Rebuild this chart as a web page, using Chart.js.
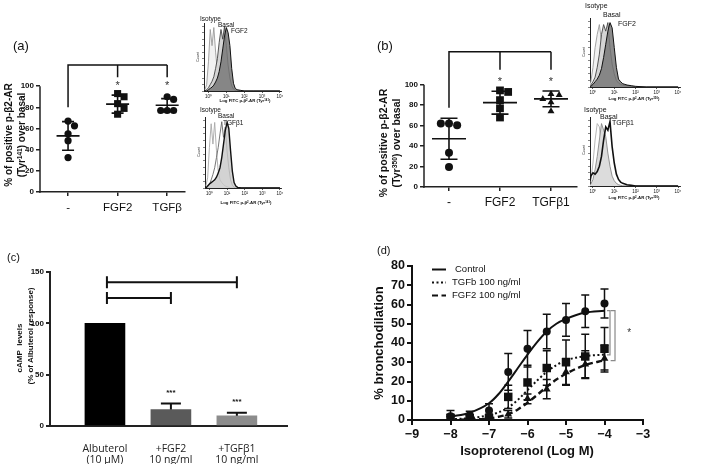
<!DOCTYPE html>
<html>
<head>
<meta charset="utf-8">
<script src="https://cdn.jsdelivr.net/npm/chart.js@4.4.0/dist/chart.umd.min.js"></script>
<style>
  body { margin: 0; width: 709px; height: 464px; position: relative; overflow: hidden; background: #fff;
         font-family: 'Liberation Sans', Arial, sans-serif; color: #111; }
  canvas { position: absolute; }
  .t { position: absolute; white-space: nowrap; line-height: 1; }
  .c { transform: translate(-50%, -50%); }
  .l { transform: translate(0, -50%); }
  .rot { transform: translate(-50%, -50%) rotate(-90deg); }
  .b { font-weight: bold; }
  .sup { font-size: 0.65em; vertical-align: 0.45em; line-height: 0; }
</style>
</head>
<body>

<canvas id="chartA" width="200" height="220" style="left:0;top:0"></canvas>
<canvas id="histA1" width="90" height="90" style="left:196px;top:15px"></canvas>
<canvas id="histA2" width="90" height="93" style="left:197px;top:109px"></canvas>
<canvas id="chartB" width="220" height="215" style="left:370px;top:0"></canvas>
<canvas id="histB1" width="104" height="91" style="left:582px;top:10px"></canvas>
<canvas id="histB2" width="104" height="91" style="left:582px;top:109px"></canvas>
<canvas id="chartC" width="300" height="224" style="left:0;top:240px"></canvas>
<canvas id="chartD" width="349" height="224" style="left:360px;top:240px"></canvas>

<!-- panel letters -->
<div class="t l" style="left:13px;top:45px;font-size:13px">(a)</div>
<div class="t l" style="left:377px;top:45px;font-size:13px">(b)</div>
<div class="t l" style="left:7px;top:257px;font-size:11px">(c)</div>
<div class="t l" style="left:377px;top:250px;font-size:11px">(d)</div>

<!-- axis titles -->
<div class="t rot b" style="left:9px;top:135px;font-size:10px">% of positive p-β2-AR</div>
<div class="t rot b" style="left:22px;top:135px;font-size:10px">(Tyr<span class="sup">141</span>) over basal</div>
<div class="t rot b" style="left:383px;top:143px;font-size:10.5px">% of positive p-β2-AR</div>
<div class="t rot b" style="left:396px;top:143px;font-size:10.5px">(Tyr<span class="sup">350</span>) over basal</div>
<div class="t rot b" style="left:20px;top:348px;font-size:8px">cAMP&nbsp; levels</div>
<div class="t rot b" style="left:31px;top:336px;font-size:8px">(% of Albuterol response)</div>
<div class="t rot b" style="left:378px;top:343px;font-size:13px">% bronchodilation</div>
<div class="t c b" style="left:527px;top:450px;font-size:13px">Isoproterenol (Log M)</div>

<!-- flow cytometry inset labels -->
<div class="t l" style="left:200px;top:19px;font-size:6.5px">Isotype</div>
<div class="t l" style="left:218px;top:25px;font-size:6.5px">Basal</div>
<div class="t l" style="left:231px;top:31px;font-size:6.5px">FGF2</div>
<div class="t rot" style="left:199px;top:57px;font-size:3.5px">Count</div>
<div class="t c b" style="left:245px;top:101px;font-size:4.3px">Log FITC p-β<span class="sup">2</span>-AR (Tyr<span class="sup">141</span>)</div>

<div class="t l" style="left:200px;top:110px;font-size:6.5px">Isotype</div>
<div class="t l" style="left:218px;top:116px;font-size:6.5px">Basal</div>
<div class="t l" style="left:223px;top:123px;font-size:6.5px">TGFβ1</div>
<div class="t rot" style="left:200px;top:152px;font-size:3.5px">Count</div>
<div class="t c b" style="left:246px;top:203px;font-size:4.3px">Log FITC p-β<span class="sup">2</span>-AR (Tyr<span class="sup">141</span>)</div>

<div class="t l" style="left:585px;top:5px;font-size:7px">Isotype</div>
<div class="t l" style="left:603px;top:14px;font-size:7px">Basal</div>
<div class="t l" style="left:618px;top:23px;font-size:7px">FGF2</div>
<div class="t rot" style="left:585px;top:52px;font-size:3.5px">Count</div>
<div class="t c b" style="left:634px;top:99px;font-size:4.3px">Log FITC p-β<span class="sup">2</span>-AR (Tyr<span class="sup">350</span>)</div>

<div class="t l" style="left:584px;top:109px;font-size:7px">Isotype</div>
<div class="t l" style="left:600px;top:116px;font-size:7px">Basal</div>
<div class="t l" style="left:612px;top:122px;font-size:7px">TGFβ1</div>
<div class="t rot" style="left:585px;top:150px;font-size:3.5px">Count</div>
<div class="t c b" style="left:634px;top:198px;font-size:4.3px">Log FITC p-β<span class="sup">2</span>-AR (Tyr<span class="sup">350</span>)</div>

<script>
/* ── data: panel (a) ── */
const catsA = ['-', 'FGF2', 'TGFβ'];
const pointsA = [
    [67, 62.5, 55, 48.5, 32.5],
    [93, 90, 83.5, 79, 73.5],
    [90, 87.5, 77, 77, 77]
];
const meanA = [53, 83, 82];
const sdA = [13.5, 8.5, 6.2];
const shapesA = ['circle', 'rect', 'circle'];
const yTicksA = [0, 20, 40, 60, 80, 100];

/* ── data: panel (b) ── */
const catsB = ['-', 'FGF2', 'TGFβ1'];
const pointsB = [
    [62, 60.5, 62, 33.5, 19.5],
    [94.5, 93, 85, 77, 68],
    [91, 90, 86, 83, 74]
];
const meanB = [47.2, 82.5, 86.2];
const sdB = [20, 11.2, 7.7];
const shapesB = ['circle', 'rect', 'triangle'];
const yTicksB = [0, 20, 40, 60, 80, 100];

/* ── data: flow cytometry insets (log10 fluorescence vs % of max count) ── */
const histLog = [-0.2, -0.1, 0, 0.1, 0.2, 0.3, 0.4, 0.5, 0.6, 0.7, 0.8, 0.9, 1.0, 1.1, 1.2, 1.3, 1.4, 1.5, 1.6, 1.8, 2.0, 2.5, 3.0, 4.0];
const decadeLabels = ['10⁰', '10¹', '10²', '10³', '10⁴'];
const isoA1   = [2, 10, 45, 95, 70, 98, 60, 30, 18, 12, 8, 5, 3, 2, 1, 1, 0, 0, 0, 0, 0, 0, 0, 0];
const basalA1 = [0, 2, 5, 10, 15, 22, 35, 50, 75, 95, 80, 100, 70, 40, 20, 8, 3, 1, 0, 0, 0, 0, 0, 0];
const fgfA1   = [0, 0, 2, 4, 6, 9, 14, 20, 30, 45, 65, 85, 98, 90, 70, 35, 12, 4, 2, 1, 0, 0, 0, 0];
const isoA2   = [3, 15, 60, 95, 65, 97, 55, 25, 12, 8, 5, 3, 2, 1, 0, 0, 0, 0, 0, 0, 0, 0, 0, 0];
const basalA2 = [0, 2, 5, 12, 20, 30, 45, 60, 80, 98, 75, 90, 55, 30, 12, 4, 1, 0, 0, 0, 0, 0, 0, 0];
const tgfA2   = [0, 3, 6, 8, 10, 12, 16, 22, 30, 45, 65, 85, 97, 88, 55, 25, 8, 3, 1, 0, 0, 0, 0, 0];
const isoB1   = [2, 8, 30, 60, 80, 95, 70, 50, 30, 18, 12, 8, 6, 4, 3, 2, 1, 1, 0, 0, 0, 0, 0, 0];
const basalB1 = [0, 3, 8, 15, 30, 50, 80, 95, 85, 98, 60, 35, 20, 10, 6, 4, 3, 2, 2, 1, 0, 0, 0, 0];
const fgfB1   = [0, 1, 4, 8, 12, 18, 28, 45, 65, 85, 98, 90, 60, 30, 12, 8, 5, 4, 3, 2, 1, 0, 0, 0];
const isoB2   = [2, 8, 35, 70, 95, 90, 60, 35, 20, 12, 8, 5, 3, 2, 1, 0, 0, 0, 0, 0, 0, 0, 0, 0];
const basalB2 = [0, 3, 10, 25, 45, 70, 95, 85, 75, 50, 30, 15, 8, 4, 2, 1, 0, 0, 0, 0, 0, 0, 0, 0];
const tgfB2   = [0, 15, 20, 18, 22, 30, 45, 70, 90, 85, 98, 60, 35, 18, 10, 6, 4, 3, 2, 1, 0, 0, 0, 0];
const countTicks = [0, 10, 20, 30, 40, 50, 60, 70, 80, 90, 100];

/* ── data: panel (c) ── */
const catsC = [['Albuterol', '(10 µM)'], ['+FGF2', '10 ng/ml'], ['+TGFβ1', '10 ng/ml']];
const cAMP = [100, 16, 10];
const cAMPerr = [0, 6, 3];
const yTicksC = [0, 50, 100, 150];

/* ── data: panel (d) ── */
const logDose = [-8, -7.5, -7, -6.5, -6, -5.5, -5, -4.5, -4];
const ctrlMean = [2, 2.5, 5, 25, 37, 46, 52, 56.5, 60.5];
const ctrlErr  = [3, 2, 3.5, 9.5, 9.5, 9, 8.5, 8.5, 7.5];
const tgfMean  = [1, 1, 1, 12, 19.5, 27, 30, 33, 37];
const tgfErr   = [2, 1.5, 2, 6, 9, 9, 11.5, 11.5, 11];
const fgfMean  = [0.5, 0.5, 0, 3, 11, 16, 25, 29, 32];
const fgfErr   = [1.5, 1, 1.5, 2, 2.5, 5, 7, 7, 7];
// fitted curves
const fitDose = [-8, -7.5, -7, -6.75, -6.5, -6.25, -6, -5.75, -5.5, -5.25, -5, -4.5, -4];
const ctrlFit = [1.7, 3.8, 8.7, 13.5, 20, 27, 34, 40.5, 46, 50, 52.5, 55.8, 56.8];
const tgfFit  = [0.4, 1, 2.5, 4, 6.5, 10.5, 15.5, 20.5, 25, 28.5, 31, 33.2, 34];
const fgfFit  = [0.1, 0.3, 0.8, 1.7, 3, 5.5, 9, 13, 17.3, 21, 24, 28.6, 31];
const legendD = ['Control', 'TGFb 100 ng/ml', 'FGF2 100 ng/ml'];

/* ── shared setup ── */
Chart.defaults.font.family = "'Liberation Sans', Arial, sans-serif";
Chart.defaults.color = '#111';
Chart.defaults.animation = false;
Chart.defaults.responsive = false;
Chart.defaults.plugins.legend.display = false;
Chart.defaults.plugins.tooltip.enabled = false;

function fixWidth(w) { return scale => { scale.width = w; }; }
function fixHeight(h) { return scale => { scale.height = h; }; }
function ticksAt(values) { return scale => { scale.ticks = values.map(v => ({ value: v })); }; }

// spread overlapping dots sideways, like a column scatter plot
function swarm(values, step, gap) {
    const placed = [];
    const slots = [0, 1, -1, 2, -2, 3, -3];
    return values.map(v => {
        for (const s of slots) {
            const off = s * step;
            const hit = placed.some(p => Math.abs(p.off - off) < step * 0.9 && Math.abs(p.v - v) < gap);
            if (!hit) { placed.push({ v, off }); return off; }
        }
        return 0;
    });
}

/* ── dot plots (a) and (b) ── */
function dotPlotMarks(means, sds, opt) {
    return {
        id: 'dotPlotMarks',
        afterDatasetsDraw(chart) {
            const { ctx, scales: { x, y } } = chart;
            ctx.save();
            ctx.strokeStyle = '#111';
            ctx.lineWidth = 1.6;
            means.forEach((m, i) => {
                const cx = x.getPixelForValue(i);
                const ym = y.getPixelForValue(m);
                const yHi = y.getPixelForValue(m + sds[i]);
                const yLo = y.getPixelForValue(m - sds[i]);
                ctx.beginPath();
                ctx.moveTo(cx - opt.meanHalf, ym); ctx.lineTo(cx + opt.meanHalf, ym);
                ctx.moveTo(cx, yHi); ctx.lineTo(cx, yLo);
                ctx.moveTo(cx - opt.capHalf, yHi); ctx.lineTo(cx + opt.capHalf, yHi);
                ctx.moveTo(cx - opt.capHalf, yLo); ctx.lineTo(cx + opt.capHalf, yLo);
                ctx.stroke();
            });
            // y axis line only up to the last tick
            const ax = chart.chartArea.left;
            ctx.strokeStyle = '#222';
            ctx.lineWidth = 1.5;
            ctx.beginPath();
            ctx.moveTo(ax, y.getPixelForValue(0) + 0.75);
            ctx.lineTo(ax, y.getPixelForValue(opt.yTicks[opt.yTicks.length - 1]));
            ctx.stroke();
            // significance bracket
            const br = opt.bracket;
            const top = y.getPixelForValue(br.top);
            const x0 = x.getPixelForValue(0);
            const xn = x.getPixelForValue(means.length - 1);
            ctx.strokeStyle = '#111';
            ctx.beginPath();
            ctx.moveTo(x0, y.getPixelForValue(br.leftFoot));
            ctx.lineTo(x0, top);
            ctx.lineTo(xn, top);
            for (let i = 1; i < means.length; i++) {
                const xi = x.getPixelForValue(i);
                ctx.moveTo(xi, top);
                ctx.lineTo(xi, y.getPixelForValue(br.foot));
            }
            ctx.stroke();
            ctx.fillStyle = '#333';
            ctx.font = "11px 'Liberation Sans', Arial, sans-serif";
            ctx.textAlign = 'center';
            ctx.textBaseline = 'middle';
            for (let i = 1; i < means.length; i++) {
                ctx.fillText('*', x.getPixelForValue(i), y.getPixelForValue(br.star));
            }
            ctx.restore();
        }
    };
}

function makeDotPlot(id, cats, points, means, sds, shapes, opt) {
    const datasets = points.map((vals, i) => {
        const offs = swarm(vals, opt.step, opt.gap);
        return {
            data: vals.map((v, k) => ({ x: i + offs[k], y: v })),
            pointStyle: shapes[i],
            pointRadius: shapes[i] === 'rect' ? opt.rectR : opt.r,
            backgroundColor: '#111',
            borderColor: '#111',
            borderWidth: 0
        };
    });
    new Chart(document.getElementById(id), {
        type: 'scatter',
        data: { datasets },
        options: {
            layout: { padding: opt.padding },
            scales: {
                x: {
                    min: opt.xMin, max: opt.xMax,
                    afterBuildTicks: ticksAt(cats.map((c, i) => i)),
                    afterFit: fixHeight(opt.xH),
                    ticks: { callback: v => cats[v], font: { size: opt.catFont }, padding: opt.catPad, maxRotation: 0, autoSkip: false },
                    grid: { drawOnChartArea: false, tickLength: 4, color: '#222', lineWidth: 1.5 },
                    border: { color: '#222', width: 1.5 }
                },
                y: {
                    min: 0, max: opt.yMax,
                    afterBuildTicks: ticksAt(opt.yTicks),
                    afterFit: fixWidth(opt.yW),
                    ticks: { font: { size: 8, weight: 'bold' }, padding: 2 },
                    grid: { drawOnChartArea: false, tickLength: 4, color: '#222', lineWidth: 1.5 },
                    border: { display: false }
                }
            }
        },
        plugins: [dotPlotMarks(means, sds, opt)]
    });
}

makeDotPlot('chartA', catsA, pointsA, meanA, sdA, shapesA, {
    padding: { top: 65, right: 15, left: 0, bottom: 0 }, xH: 28, yW: 40,
    xMin: -0.566, xMax: 2.36, yMax: 120, yTicks: yTicksA,
    catFont: 11.5, catPad: 5, r: 3.6, rectR: 5, step: 0.13, gap: 6.5,
    meanHalf: 11.5, capHalf: 6,
    bracket: { top: 120, leftFoot: 80, foot: 108.5, star: 100 }
});

makeDotPlot('chartB', catsB, pointsB, meanB, sdB, shapesB, {
    padding: { top: 49, right: 13, left: 0, bottom: 0 }, xH: 28, yW: 54,
    xMin: -0.49, xMax: 2.51, yMax: 135, yTicks: yTicksB,
    catFont: 12, catPad: 4, r: 4, rectR: 5.5, step: 0.16, gap: 7,
    meanHalf: 17, capHalf: 8.5,
    bracket: { top: 132.4, leftFoot: 77.5, foot: 114.7, star: 103 }
});

/* ── flow cytometry histograms ── */
function makeHist(id, series, looks, xMin, xMax, padRight) {
    new Chart(document.getElementById(id), {
        type: 'scatter',
        data: {
            datasets: series.map((s, i) => ({
                data: histLog.map((x, k) => ({ x, y: s[k] })),
                showLine: true,
                pointRadius: 0,
                tension: 0,
                borderColor: looks[i].line,
                borderWidth: looks[i].width,
                backgroundColor: looks[i].fill || 'transparent',
                fill: looks[i].fill ? 'origin' : false,
                order: series.length - i
            }))
        },
        options: {
            layout: { padding: { top: 8, right: padRight, left: 0, bottom: 0 } },
            scales: {
                x: {
                    min: xMin, max: xMax,
                    afterBuildTicks: ticksAt([0, 1, 2, 3, 4]),
                    afterFit: fixHeight(14),
                    ticks: { callback: v => decadeLabels[v], font: { size: 4.5 }, padding: 1, maxRotation: 0, autoSkip: false },
                    grid: { drawOnChartArea: false, tickLength: 2, color: '#333', lineWidth: 0.8 },
                    border: { color: '#222', width: 1 }
                },
                y: {
                    min: 0, max: 105,
                    afterBuildTicks: ticksAt(countTicks),
                    afterFit: fixWidth(8),
                    ticks: { display: false },
                    grid: { drawOnChartArea: false, tickLength: 2, color: '#333', lineWidth: 0.6 },
                    border: { color: '#222', width: 1 }
                }
            }
        }
    });
}

const lookTop = [
    { line: '#9a9a9a', fill: '#f1f1f1', width: 0.9 },
    { line: '#444', fill: '#d4d4d4', width: 0.9 },
    { line: '#111', fill: 'rgba(120,120,120,0.85)', width: 1 }
];
const lookBottomA = [
    { line: '#a8a8a8', width: 0.9 },
    { line: '#666', width: 0.9 },
    { line: '#111', fill: 'rgba(200,200,200,0.8)', width: 1.4 }
];
const lookBottomB = [
    { line: '#b0b0b0', width: 0.9 },
    { line: '#888', fill: '#dcdcdc', width: 0.9 },
    { line: '#111', width: 1.6 }
];

makeHist('histA1', [isoA1, basalA1, fgfA1], lookTop, -0.25, 4.06, 5);
makeHist('histA2', [isoA2, basalA2, tgfA2], lookBottomA, -0.25, 4.06, 6);
makeHist('histB1', [isoB1, basalB1, fgfB1], lookTop, -0.14, 4.09, 6);
makeHist('histB2', [isoB2, basalB2, tgfB2], lookBottomB, -0.14, 4.09, 6);

/* ── (c) cAMP bar chart ── */
const cMarks = {
    id: 'cMarks',
    afterDatasetsDraw(chart) {
        const { ctx, scales: { x, y } } = chart;
        ctx.save();
        ctx.strokeStyle = '#111';
        ctx.lineWidth = 2;
        cAMP.forEach((v, i) => {
            if (!cAMPerr[i]) return;
            const cx = x.getPixelForValue(i);
            const yTop = y.getPixelForValue(v + cAMPerr[i]);
            ctx.beginPath();
            ctx.moveTo(cx, y.getPixelForValue(v));
            ctx.lineTo(cx, yTop);
            ctx.moveTo(cx - 10, yTop);
            ctx.lineTo(cx + 10, yTop);
            ctx.stroke();
            ctx.fillStyle = '#111';
            ctx.font = "bold 8px 'Liberation Sans', Arial, sans-serif";
            ctx.textAlign = 'center';
            ctx.textBaseline = 'middle';
            ctx.fillText('***', cx, yTop - 11);
        });
        // comparison brackets against Albuterol
        [[2, 140], [1, 124.7]].forEach(([to, lvl]) => {
            const x0 = x.getPixelForValue(0.03);
            const x1 = x.getPixelForValue(to);
            const yy = y.getPixelForValue(lvl);
            ctx.beginPath();
            ctx.moveTo(x0, yy); ctx.lineTo(x1, yy);
            ctx.moveTo(x0, yy - 6); ctx.lineTo(x0, yy + 6);
            ctx.moveTo(x1, yy - 6); ctx.lineTo(x1, yy + 6);
            ctx.stroke();
        });
        ctx.restore();
    }
};

new Chart(document.getElementById('chartC'), {
    type: 'bar',
    data: {
        datasets: [{
            data: cAMP.map((v, i) => ({ x: i, y: v })),
            backgroundColor: ['#000000', '#5a5a5a', '#8c8c8c'],
            barThickness: 40
        }]
    },
    options: {
        layout: { padding: { top: 32, right: 13, left: 0, bottom: 0 } },
        scales: {
            x: {
                type: 'linear', min: -0.833, max: 2.76, offset: false,
                afterBuildTicks: ticksAt([0, 1, 2]),
                afterFit: fixHeight(38),
                ticks: { callback: v => catsC[v], font: { family: "'Open Sans', sans-serif", size: 10.5, lineHeight: 1.1 }, padding: 9, color: '#222', maxRotation: 0, autoSkip: false },
                grid: { display: false, offset: false },
                border: { color: '#222', width: 2 }
            },
            y: {
                min: 0, max: 150,
                afterBuildTicks: ticksAt(yTicksC),
                afterFit: fixWidth(50),
                ticks: { font: { size: 8, weight: 'bold' }, padding: 2 },
                grid: { drawOnChartArea: false, tickLength: 4, color: '#222', lineWidth: 2 },
                border: { color: '#222', width: 2 }
            }
        }
    },
    plugins: [cMarks]
});

/* ── (d) concentration-response curves ── */
const dMarks = {
    id: 'dMarks',
    beforeDatasetsDraw(chart) {
        const { ctx, scales: { x, y } } = chart;
        ctx.save();
        ctx.strokeStyle = '#111';
        ctx.lineWidth = 1.5;
        [[ctrlMean, ctrlErr], [tgfMean, tgfErr], [fgfMean, fgfErr]].forEach(([m, e]) => {
            logDose.forEach((d, i) => {
                const cx = x.getPixelForValue(d);
                const yHi = y.getPixelForValue(m[i] + e[i]);
                const yLo = y.getPixelForValue(Math.max(m[i] - e[i], 0));
                ctx.beginPath();
                ctx.moveTo(cx, yHi); ctx.lineTo(cx, yLo);
                ctx.moveTo(cx - 4, yHi); ctx.lineTo(cx + 4, yHi);
                ctx.moveTo(cx - 4, yLo); ctx.lineTo(cx + 4, yLo);
                ctx.stroke();
            });
        });
        ctx.restore();
    },
    afterDatasetsDraw(chart) {
        const { ctx, chartArea, scales: { x, y } } = chart;
        ctx.save();
        // legend
        const dashes = [[], [2, 2.5], [6, 3.5]];
        ctx.font = "9.5px 'Liberation Sans', Arial, sans-serif";
        ctx.textBaseline = 'middle';
        legendD.forEach((name, i) => {
            const ly = chartArea.top + 3.5 + i * 13;
            ctx.strokeStyle = '#111';
            ctx.lineWidth = 2;
            ctx.setLineDash(dashes[i]);
            ctx.beginPath();
            ctx.moveTo(chartArea.left + 20, ly);
            ctx.lineTo(chartArea.left + 34, ly);
            ctx.stroke();
            ctx.setLineDash([]);
            ctx.fillStyle = '#111';
            ctx.fillText(name, chartArea.left + (i === 0 ? 43 : 40), ly);
        });
        // gray significance brackets at the top dose
        ctx.strokeStyle = '#8a8a8a';
        ctx.lineWidth = 1.2;
        [[-3.857, -3.935, 56.8, 33.8], [-3.727, -3.84, 56.8, 30.8]].forEach(([bx, tx, t, b]) => {
            ctx.beginPath();
            ctx.moveTo(x.getPixelForValue(tx), y.getPixelForValue(t));
            ctx.lineTo(x.getPixelForValue(bx), y.getPixelForValue(t));
            ctx.lineTo(x.getPixelForValue(bx), y.getPixelForValue(b));
            ctx.lineTo(x.getPixelForValue(tx), y.getPixelForValue(b));
            ctx.stroke();
        });
        ctx.fillStyle = '#333';
        ctx.font = "10px 'Liberation Sans', Arial, sans-serif";
        ctx.textAlign = 'center';
        ctx.fillText('*', x.getPixelForValue(-3.36), y.getPixelForValue(45));
        ctx.restore();
    }
};

function curve(vals) {
    return fitDose.map((d, i) => ({ x: d, y: vals[i] }));
}
function points(vals) {
    return logDose.map((d, i) => ({ x: d, y: vals[i] }));
}

new Chart(document.getElementById('chartD'), {
    type: 'scatter',
    data: {
        datasets: [
            { data: curve(ctrlFit), showLine: true, pointRadius: 0, borderColor: '#111', borderWidth: 2, cubicInterpolationMode: 'monotone' },
            { data: curve(tgfFit), showLine: true, pointRadius: 0, borderColor: '#111', borderWidth: 2, borderDash: [2, 2.5], cubicInterpolationMode: 'monotone' },
            { data: curve(fgfFit), showLine: true, pointRadius: 0, borderColor: '#111', borderWidth: 2.4, borderDash: [6, 3.5], cubicInterpolationMode: 'monotone' },
            { data: points(ctrlMean), pointStyle: 'circle', pointRadius: 4, backgroundColor: '#111', borderWidth: 0 },
            { data: points(tgfMean), pointStyle: 'rect', pointRadius: 6, backgroundColor: '#111', borderWidth: 0 },
            { data: points(fgfMean), pointStyle: 'triangle', pointRadius: 4.5, backgroundColor: '#111', borderWidth: 0 }
        ]
    },
    options: {
        layout: { padding: { top: 26, right: 66, left: 0, bottom: 0 } },
        scales: {
            x: {
                min: -9, max: -3,
                afterFit: fixHeight(44),
                ticks: { stepSize: 1, callback: v => (v < 0 ? '−' + Math.abs(v) : v), font: { size: 12.5, weight: 'bold' }, padding: 2 },
                grid: { drawOnChartArea: false, tickLength: 5, color: '#111', lineWidth: 2 },
                border: { color: '#111', width: 2 }
            },
            y: {
                min: 0, max: 80,
                afterFit: fixWidth(52),
                ticks: { stepSize: 10, font: { size: 12.5, weight: 'bold' }, padding: 2 },
                grid: { drawOnChartArea: false, tickLength: 5, color: '#111', lineWidth: 2 },
                border: { color: '#111', width: 2 }
            }
        }
    },
    plugins: [dMarks]
});
</script>
</body>
</html>
